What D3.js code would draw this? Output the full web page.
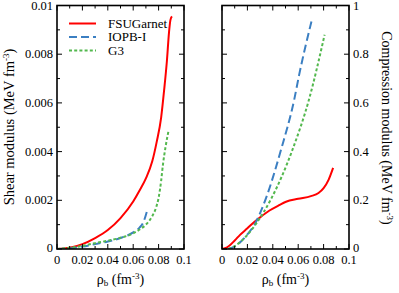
<!DOCTYPE html>
<html>
<head>
<meta charset="utf-8">
<script src="https://cdn.jsdelivr.net/npm/d3@7"></script>
<style>
body { margin: 0; background: #fff; }
</style>
</head>
<body>
<div id="screen"></div>
<script>
var width = 399;
var height = 293;

// shear modulus (left panel), x = rho_b, y = MeV fm^-3
var shearFSU = [[0,0],[0.01,0.00005],[0.02,0.0002],[0.03,0.00045],[0.04,0.00078],[0.05,0.00127],[0.06,0.00195],[0.065,0.0024],[0.07,0.0029],[0.075,0.0036],[0.0785,0.0044],[0.082,0.0054],[0.0845,0.0066],[0.0865,0.0077],[0.0882,0.0089],[0.0893,0.0094],[0.0905,0.00955]];
var shearIOPB = [[0,0],[0.01,0.00002],[0.02,0.0001],[0.03,0.0002],[0.04,0.00031],[0.05,0.00045],[0.06,0.00068],[0.065,0.00088],[0.068,0.0011],[0.0711,0.0016]];
var shearG3 = [[0,0],[0.01,0.00005],[0.02,0.00013],[0.03,0.00024],[0.04,0.00034],[0.05,0.00046],[0.06,0.00064],[0.065,0.0008],[0.07,0.001],[0.075,0.00135],[0.078,0.0017],[0.08,0.0021],[0.082,0.0028],[0.0835,0.0035],[0.0855,0.0042],[0.088,0.0049]];

// compression modulus (right panel)
var compFSU = [[0,0],[0.004,0.007],[0.01,0.035],[0.0142,0.058],[0.02,0.085],[0.0245,0.107],[0.03,0.13],[0.0374,0.158],[0.045,0.18],[0.0504,0.194],[0.06,0.206],[0.07,0.217],[0.076,0.23],[0.08,0.25],[0.084,0.285],[0.0875,0.333]];
var compIOPB = [[0.005,0],[0.008,0.005],[0.013,0.022],[0.02,0.06],[0.0258,0.102],[0.0343,0.204],[0.0465,0.408],[0.0568,0.612],[0.0607,0.714],[0.0705,0.936]];
var compG3 = [[0.005,0],[0.01,0.012],[0.02,0.058],[0.027,0.105],[0.0385,0.204],[0.0555,0.408],[0.0684,0.612],[0.0808,0.88]];

var names = ["FSUGarnet", "IOPB-I", "G3"];
var colors = ["#ff0000", "#3b7fc2", "#53b84e"];
var dashes = [null, "8,4", "3,2.2"];

var xTicks = [0, 0.02, 0.04, 0.06, 0.08, 0.1];
var leftTicks = [0, 0.002, 0.004, 0.006, 0.008, 0.01];
var rightTicks = [0, 0.2, 0.4, 0.6, 0.8, 1];

var serif = "Liberation Serif";

var svg = d3.select("#screen").append("svg").attr("width", width).attr("height", height)
  .style("font-family", serif);

var yTop = 5.5, yBottom = 249;

function txt(sel) {
  return sel.append("text").style("font-family", serif).attr("fill", "#000");
}

function panel(x0, x1, yMax, series, tickVals, tickFmt, labelRight) {
  var sx = d3.scaleLinear().domain([0, 0.1]).range([x0, x1]);
  var sy = d3.scaleLinear().domain([0, yMax]).range([yBottom, yTop]);
  var g = svg.append("g");

  var line = d3.line().x(function(d){ return sx(d[0]); }).y(function(d){ return sy(d[1]); })
    .curve(d3.curveMonotoneX);
  var clipId = "clip" + x0;
  g.append("clipPath").attr("id", clipId).append("rect")
    .attr("x", x0).attr("y", yTop).attr("width", x1 - x0).attr("height", yBottom - yTop);
  series.forEach(function(s, i){
    g.append("path").datum(s)
      .attr("d", line)
      .attr("fill", "none")
      .attr("stroke", colors[i])
      .attr("stroke-width", 2)
      .attr("stroke-dasharray", dashes[i])
      .attr("clip-path", "url(#" + clipId + ")");
  });

  // ticks inside on all four sides
  var xMinor = d3.range(0, 0.1001, 0.01);
  var yMinor = d3.range(0, yMax * 1.0001, yMax / 10);
  var tk = g.append("g").attr("stroke", "#000").attr("stroke-width", 1);
  xMinor.forEach(function(v, i){
    var len = i % 2 == 0 ? 5 : 3;
    tk.append("line").attr("x1", sx(v)).attr("x2", sx(v)).attr("y1", yBottom).attr("y2", yBottom - len);
    tk.append("line").attr("x1", sx(v)).attr("x2", sx(v)).attr("y1", yTop).attr("y2", yTop + len);
  });
  yMinor.forEach(function(v, i){
    var len = i % 2 == 0 ? 5 : 3;
    tk.append("line").attr("x1", x0).attr("x2", x0 + len).attr("y1", sy(v)).attr("y2", sy(v));
    tk.append("line").attr("x1", x1).attr("x2", x1 - len).attr("y1", sy(v)).attr("y2", sy(v));
  });
  g.append("rect").attr("x", x0).attr("y", yTop).attr("width", x1 - x0).attr("height", yBottom - yTop)
    .attr("fill", "none").attr("stroke", "#000").attr("stroke-width", 1.6);

  xTicks.forEach(function(v){
    txt(g).attr("x", sx(v)).attr("y", yBottom + 15)
      .attr("text-anchor", "middle").attr("font-size", 12.5).text(d3.format("")(v));
  });
  tickVals.forEach(function(v){
    txt(g)
      .attr("x", labelRight ? x1 + 4 : x0 - 4)
      .attr("y", sy(v) + (v == 0 ? 3 : 4))
      .attr("text-anchor", labelRight ? "start" : "end")
      .attr("font-size", 12.5).text(tickFmt(v));
  });

  var xl = txt(g).attr("x", (x0 + x1) / 2).attr("y", 284)
    .attr("text-anchor", "middle").attr("font-size", 14);
  xl.append("tspan").text("\u03c1");
  xl.append("tspan").attr("font-size", 9).attr("dy", 2).text("b");
  xl.append("tspan").attr("dy", -2).text(" (fm");
  xl.append("tspan").attr("font-size", 9).attr("dy", -5).text("-3");
  xl.append("tspan").attr("dy", 5).text(")");
  return g;
}

panel(57, 184, 0.01, [shearFSU, shearIOPB, shearG3], leftTicks,
  function(v){ return v == 0 ? "0" : d3.format("")(+v.toFixed(3)); }, false);
panel(222, 349, 1, [compFSU, compIOPB, compG3], rightTicks,
  function(v){ return d3.format("")(v); }, true);

// y titles
function yTitle(x, y, rot, text, size) {
  var t = txt(svg).attr("transform", "translate(" + x + "," + y + ") rotate(" + rot + ")")
    .attr("text-anchor", "middle").attr("font-size", size);
  t.append("tspan").text(text + " (MeV fm");
  t.append("tspan").attr("font-size", 9).attr("dy", -5).text("-3");
  t.append("tspan").attr("dy", 5).text(")");
}
yTitle(14, 127, -90, "Shear modulus", 14.5);
yTitle(382, 128, 90, "Compression modulus", 14);

// legend
var lg = svg.append("g");
names.forEach(function(n, i){
  var y = 23.5 + i * 13.5;
  lg.append("line").attr("x1", 69).attr("x2", 96).attr("y1", y).attr("y2", y)
    .attr("stroke", colors[i]).attr("stroke-width", 2).attr("stroke-dasharray", dashes[i]);
  txt(lg).attr("x", 108).attr("y", y + 4).attr("font-size", 13).text(n);
});
</script>
</body>
</html>
